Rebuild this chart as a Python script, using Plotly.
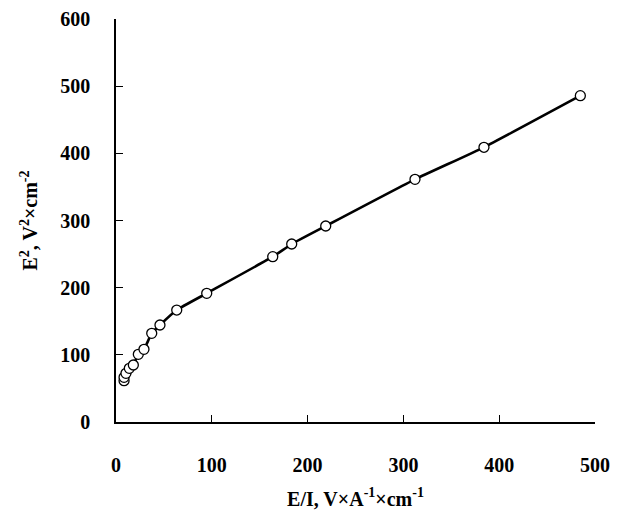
import plotly.graph_objects as go

# E/I (V×A^-1×cm^-1)
ei = [8.4, 8.4, 10.4, 13.9, 18.1, 23.3, 29.2, 37.3, 45.9, 63.4, 94.7,
      163.6, 183.4, 218.9, 312.1, 384.1, 484.7]
# E^2 (V^2×cm^-2)
e2 = [61.5, 66.5, 72.5, 79.9, 84.9, 100.8, 108.2, 132.0, 144.4, 166.7, 191.6,
      246.1, 265.0, 291.8, 361.3, 409.0, 485.8]

x_ticks = [0, 100, 200, 300, 400, 500]
y_ticks = [0, 100, 200, 300, 400, 500, 600]

FONT = "Liberation Serif, Times New Roman, serif"

fig = go.Figure()
fig.add_trace(go.Scatter(
    x=ei, y=e2, mode="lines+markers",
    line=dict(color="black", width=2.6, shape="spline", smoothing=0.4),
    marker=dict(symbol="circle", size=10, color="white",
                line=dict(color="black", width=1.3)),
    showlegend=False,
))

fig.update_layout(
    width=629, height=510,
    margin=dict(l=108, r=42, t=11, b=96),
    paper_bgcolor="white", plot_bgcolor="white",
    font=dict(family=FONT, color="black", size=20),
    xaxis=dict(
        range=[0, 500], tickvals=x_ticks, showgrid=False, zeroline=False,
        showline=True, linecolor="black", linewidth=1.5, automargin=False,
        ticks="inside", ticklen=7, tickwidth=1, tickcolor="black",
        tickfont=dict(family=FONT, size=20, weight="bold"),
        ticklabelstandoff=24,
        title=dict(text="<b>E/I, V×A<sup>-1</sup>×cm<sup>-1</sup></b>",
                   font=dict(family=FONT, size=20), standoff=17),
    ),
    yaxis=dict(
        range=[0, 600], tickvals=y_ticks, showgrid=False, zeroline=False,
        showline=True, linecolor="black", linewidth=1.5, automargin=False,
        ticks="inside", ticklen=7, tickwidth=1, tickcolor="black",
        tickfont=dict(family=FONT, size=20, weight="bold"),
        ticklabelstandoff=20,
        title=dict(text="<b>E<sup>2</sup>, V<sup>2</sup>×cm<sup>-2</sup></b>",
                   font=dict(family=FONT, size=20), standoff=17),
    ),
)

fig.write_html("out.html")
